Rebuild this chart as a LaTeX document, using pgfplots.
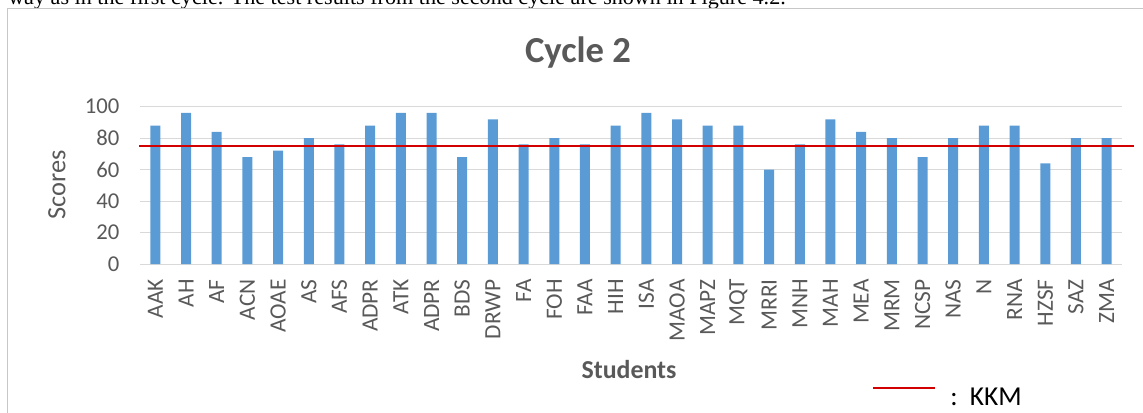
\documentclass[border=0pt]{standalone}
\usepackage{pgfplots}
\pgfplotsset{compat=1.18}
\usepackage{fontspec}
\setmainfont{Carlito}
\newfontfamily\timesf{Liberation Serif}
\definecolor{barblue}{HTML}{5B9BD5}
\definecolor{txtgray}{HTML}{595959}
\definecolor{gridgray}{HTML}{D9D9D9}
\definecolor{kkmred}{RGB}{210,0,0}
\begin{document}
\begin{tikzpicture}
\path[use as bounding box] (0,0) rectangle (857.25pt,309pt);
\begin{scope}
\clip (0,0) rectangle (857.25pt,309pt);
\node[anchor=base west, inner sep=0pt, font=\timesf\fontsize{16.6}{19}\selectfont] at (6pt,305.25pt)
  {way as in the first cycle. The test results from the second cycle are shown in Figure 4.2.};
\draw[gridgray!80!gray, line width=0.75pt] (5.25pt,-5pt) -- (5.25pt,303pt) -- (870pt,303pt);
\end{scope}
\begin{axis}[
  at={(105pt,111pt)}, anchor=south west,
  scale only axis, width=736.5pt, height=118pt,
  xmin=-0.5, xmax=31.5, ymin=0, ymax=100,
  axis line style={draw=none},
  ymajorgrids, grid style={gridgray, line width=0.75pt},
  ytick={0,20,...,100},
  major tick length=0pt,
  /pgf/number format/assume math mode=true,
  xtick={0,...,31},
  xticklabels={AAK,AH,AF,ACN,AOAE,AS,AFS,ADPR,ATK,ADPR,BDS,DRWP,FA,FOH,FAA,HIH,ISA,MAOA,MAPZ,MQT,MRRI,MNH,MAH,MEA,MRM,NCSP,NAS,N,RNA,HZSF,SAZ,ZMA},
  x tick label style={rotate=90, anchor=east, xshift=-8pt, font=\fontsize{17.5}{20}\selectfont, text=txtgray},
  y tick label style={xshift=-12pt, font=\fontsize{17}{20}\selectfont, text=txtgray},
  clip=false,
]
\addplot[ybar, bar width=7.5pt, fill=barblue, draw=none] coordinates {
(0,88) (1,96) (2,84) (3,68) (4,72) (5,80) (6,76) (7,88) (8,96) (9,96)
(10,68) (11,92) (12,76) (13,80) (14,76) (15,88) (16,96) (17,92) (18,88) (19,88)
(20,60) (21,76) (22,92) (23,84) (24,80) (25,68) (26,80) (27,88) (28,88) (29,64)
(30,80) (31,80)};
\addplot[kkmred, line width=1pt] coordinates {(-0.53,75) (31.89,75)};
\end{axis}
\node[font=\bfseries\fontsize{27.5}{32}\selectfont, text=txtgray] at (433.5pt,269.25pt) {Cycle 2};
\node[font=\bfseries\fontsize{19.4}{23}\selectfont, text=txtgray] at (471.75pt,31.5pt) {Students};
\node[rotate=90, font=\fontsize{19.8}{23}\selectfont, text=txtgray] at (42.75pt,170.25pt) {Scores};
\draw[kkmred, line width=1pt] (654.75pt,18pt) -- (701.25pt,18pt);
\node[anchor=base west, inner sep=0pt, font=\fontsize{20.5}{24}\selectfont] at (712.5pt,5.25pt) {:~~KKM};
\end{tikzpicture}
\end{document}
